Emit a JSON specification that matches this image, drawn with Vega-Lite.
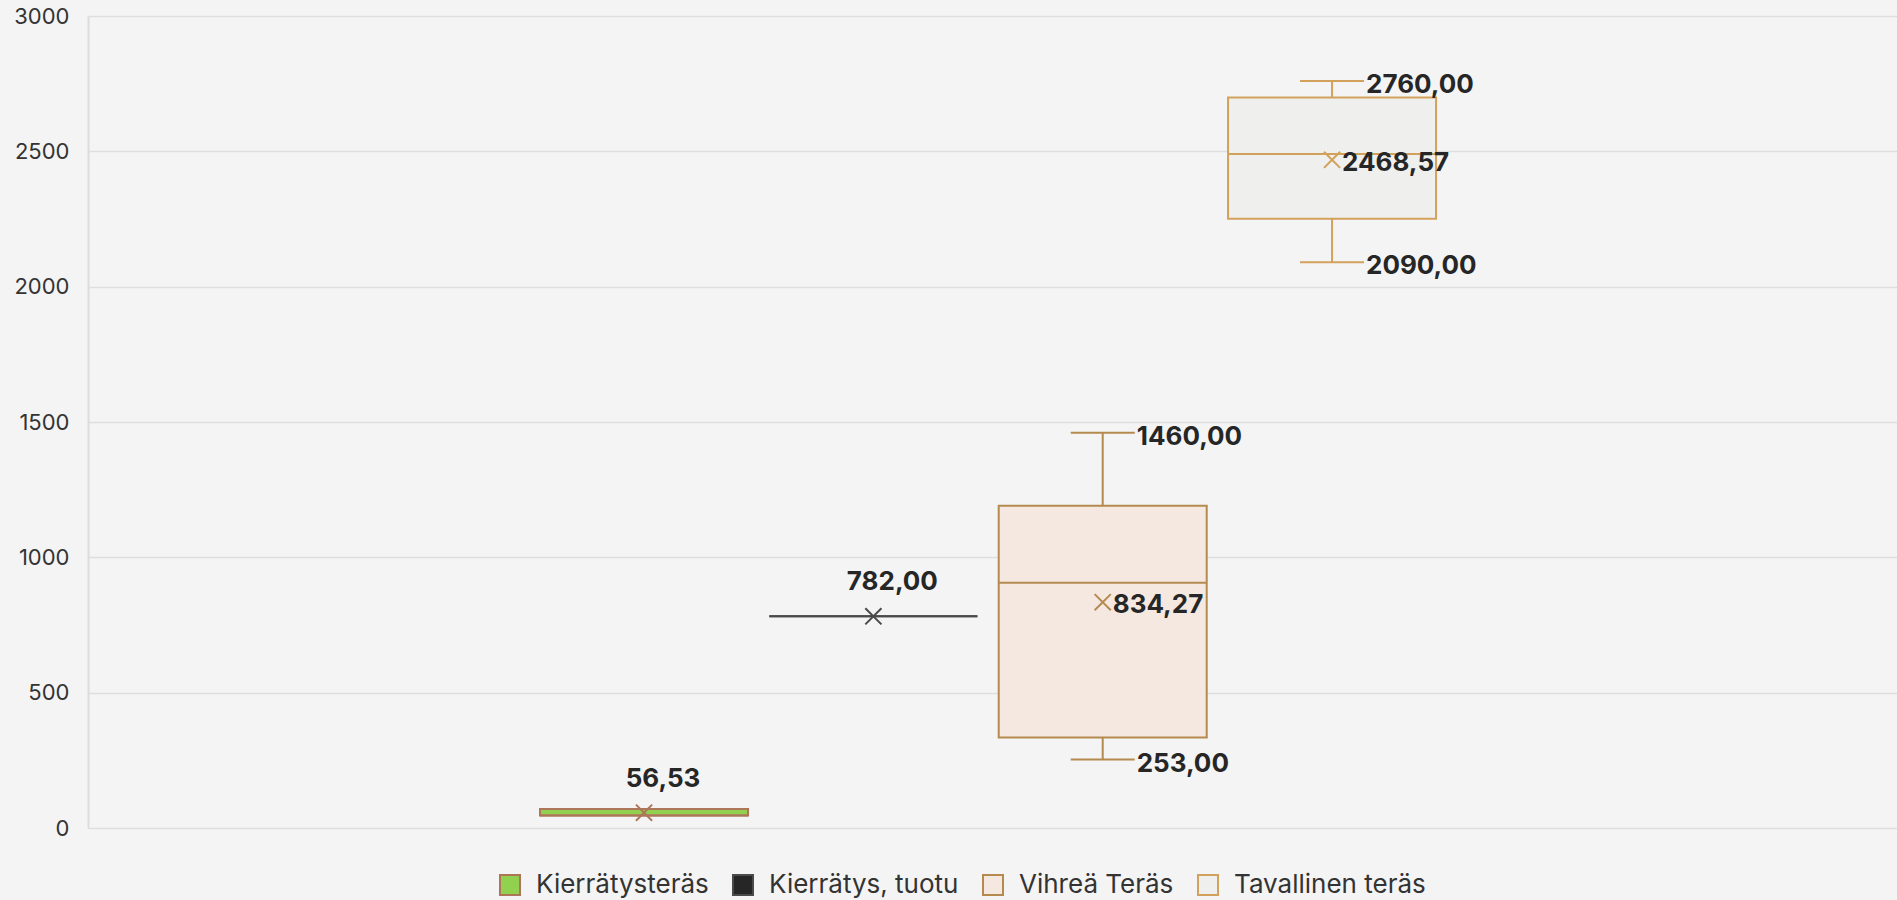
{
  "$schema": "https://vega.github.io/schema/vega-lite/v6.json",
  "autosize": {"type": "none"},
  "width": 1809,
  "height": 812,
  "padding": {"left": 88, "top": 16, "right": 0, "bottom": 72},
  "background": "#f4f4f4",
  "config": {
    "view": {"stroke": null},
    "locale": {"number": {"decimal": ",", "thousands": " ", "grouping": [3], "currency": ["", " €"]}},
    "text": {"font": "Inter", "fontWeight": "bold", "fontSize": 26, "fill": "#262626"}
  },
  "data": {
    "values": [
      {"group": "Teräs", "series": "Kierrätysteräs", "min": 46, "q1": 46, "median": 46, "q3": 70, "max": 70, "mean": 56.53},
      {"group": "Teräs", "series": "Kierrätys, tuotu", "min": 782, "q1": 782, "median": 782, "q3": 782, "max": 782, "mean": 782},
      {"group": "Teräs", "series": "Vihreä Teräs", "min": 253, "q1": 334, "median": 906, "q3": 1191, "max": 1460, "mean": 834.27},
      {"group": "Teräs", "series": "Tavallinen teräs", "min": 2090, "q1": 2251, "median": 2490, "q3": 2699, "max": 2760, "mean": 2468.57}
    ]
  },
  "encoding": {
    "x": {"field": "group", "type": "nominal", "scale": {"paddingInner": 0, "paddingOuter": 0.486, "align": 0.495}, "axis": null},
    "xOffset": {
      "field": "series",
      "type": "nominal",
      "sort": ["Kierrätysteräs", "Kierrätys, tuotu", "Vihreä Teräs", "Tavallinen teräs"],
      "scale": {"paddingInner": 0.093, "paddingOuter": 0.0465}
    }
  },
  "layer": [
    {
      "transform": [{"filter": "datum.max > datum.q3"}],
      "mark": {"type": "rule", "strokeWidth": 2, "opacity": 1},
      "encoding": {
        "y": {"field": "min", "type": "quantitative", "scale": {"domain": [0, 3000], "nice": false},
          "axis": {"values": [0, 500, 1000, 1500, 2000, 2500, 3000], "format": "d", "ticks": false, "labelPadding": 19,
            "domainColor": "#dcdcdc", "domainWidth": 2, "gridColor": "#dedede", "gridWidth": 1.5,
            "labelFont": "Inter", "labelFontSize": 22, "labelColor": "#333333", "title": null}},
        "y2": {"field": "max"},
        "stroke": {"field": "series", "type": "nominal"}
      }
    },
    {
      "transform": [{"filter": "datum.max > datum.q3"}],
      "mark": {"type": "tick", "size": 62, "thickness": 0.01, "filled": false, "strokeWidth": 2, "opacity": 1},
      "encoding": {
        "y": {"field": "max", "type": "quantitative"},
        "stroke": {"field": "series", "type": "nominal"}
      }
    },
    {
      "transform": [{"filter": "datum.max > datum.q3"}],
      "mark": {"type": "tick", "size": 62, "thickness": 0.01, "filled": false, "strokeWidth": 2, "opacity": 1},
      "encoding": {
        "y": {"field": "min", "type": "quantitative"},
        "stroke": {"field": "series", "type": "nominal"}
      }
    },
    {
      "mark": {"type": "bar", "strokeWidth": 2, "opacity": 1},
      "encoding": {
        "y": {"field": "q1", "type": "quantitative"},
        "y2": {"field": "q3"},
        "fill": {"field": "series", "type": "nominal",
          "scale": {"domain": ["Kierrätysteräs", "Kierrätys, tuotu", "Vihreä Teräs", "Tavallinen teräs"],
            "range": ["#92d050", "#262626", "#f5e8e0", "#efefed"]},
          "legend": {"orient": "none", "legendX": 409, "legendY": 856, "direction": "horizontal", "title": null,
            "symbolType": "square", "symbolSize": 400, "symbolStrokeWidth": 2, "symbolOpacity": 1,
            "labelFont": "Inter", "labelFontSize": 26, "labelColor": "#333333", "labelOffset": 13, "labelLimit": 400,
            "columnPadding": 20, "padding": 0}},
        "stroke": {"field": "series", "type": "nominal",
          "scale": {"domain": ["Kierrätysteräs", "Kierrätys, tuotu", "Vihreä Teräs", "Tavallinen teräs"],
            "range": ["#ad7659", "#4a4a4a", "#b58a4f", "#d2a15c"]},
          "legend": {"orient": "none", "legendX": 409, "legendY": 856, "direction": "horizontal", "title": null,
            "symbolType": "square", "symbolSize": 400, "symbolStrokeWidth": 2, "symbolOpacity": 1,
            "labelFont": "Inter", "labelFontSize": 26, "labelColor": "#333333", "labelOffset": 13, "labelLimit": 400,
            "columnPadding": 20, "padding": 0}}
      }
    },
    {
      "mark": {"type": "bar", "strokeWidth": 2, "fillOpacity": 0, "opacity": 1},
      "encoding": {
        "y": {"field": "median", "type": "quantitative"},
        "y2": {"field": "median"},
        "stroke": {"field": "series", "type": "nominal"}
      }
    },
    {
      "mark": {"type": "point", "shape": "M-1,-1L1,1M-1,1L1,-1", "filled": false, "strokeWidth": 2, "size": 260, "opacity": 1},
      "encoding": {
        "y": {"field": "mean", "type": "quantitative"},
        "stroke": {"field": "series", "type": "nominal"}
      }
    },
    {
      "transform": [{"filter": "datum.max <= datum.q3"}],
      "mark": {"type": "text", "align": "center", "baseline": "middle", "dx": 19, "dy": -34},
      "encoding": {
        "y": {"field": "mean", "type": "quantitative"},
        "text": {"field": "mean", "type": "quantitative", "format": ".2f"}
      }
    },
    {
      "transform": [{"filter": "datum.max > datum.q3"}],
      "mark": {"type": "text", "align": "left", "baseline": "middle", "dx": 10, "dy": 3},
      "encoding": {
        "y": {"field": "mean", "type": "quantitative"},
        "text": {"field": "mean", "type": "quantitative", "format": ".2f"}
      }
    },
    {
      "transform": [{"filter": "datum.max > datum.q3"}],
      "mark": {"type": "text", "align": "left", "baseline": "middle", "dx": 34, "dy": 4},
      "encoding": {
        "y": {"field": "max", "type": "quantitative"},
        "text": {"field": "max", "type": "quantitative", "format": ".2f"}
      }
    },
    {
      "transform": [{"filter": "datum.max > datum.q3"}],
      "mark": {"type": "text", "align": "left", "baseline": "middle", "dx": 34, "dy": 4},
      "encoding": {
        "y": {"field": "min", "type": "quantitative"},
        "text": {"field": "min", "type": "quantitative", "format": ".2f"}
      }
    }
  ]
}
